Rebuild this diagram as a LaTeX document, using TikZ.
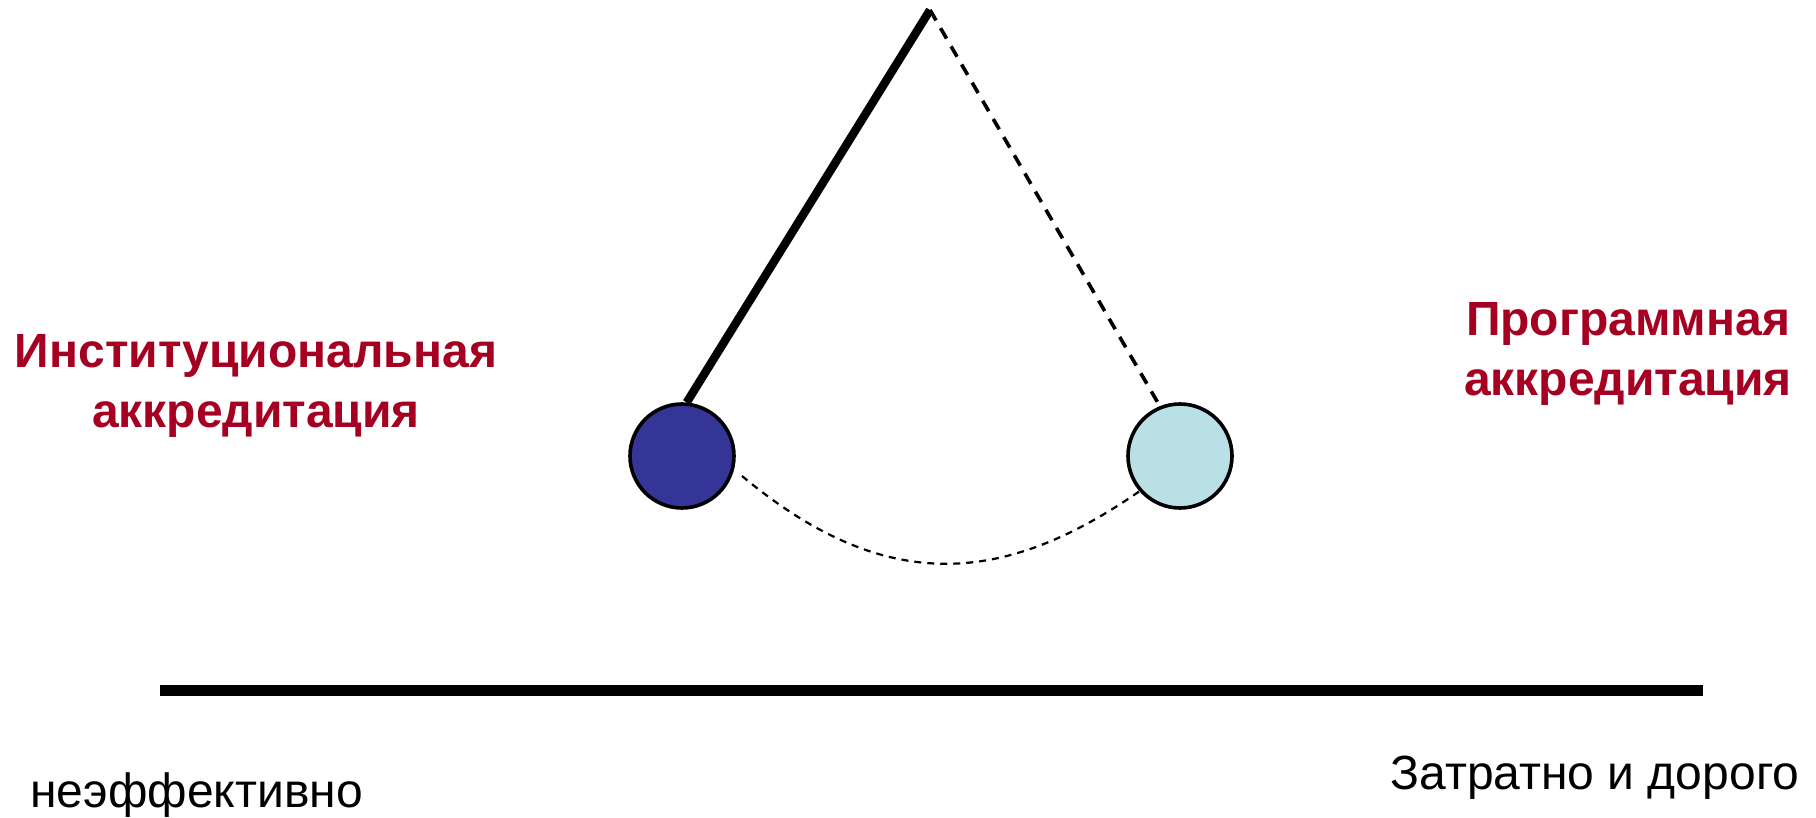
\documentclass[tikz,border=0pt]{standalone}
\usepackage{fontspec}
\setmainfont{Liberation Sans}
\usetikzlibrary{positioning}
\definecolor{TitleRed}{HTML}{A50021}
\definecolor{BobDark}{HTML}{353598}
\definecolor{BobLight}{HTML}{B9E0E4}

\begin{document}
\begin{tikzpicture}[
	x=0.5pt, y=-0.5pt,
	bob/.style={circle, draw, line width=1.8pt, minimum size=52pt, inner sep=0pt},
	title/.style={text=TitleRed, font=\fontsize{24}{30}\selectfont\bfseries, align=center, inner sep=0pt},
	note/.style={font=\fontsize{24}{28}\selectfont, inner sep=0pt, anchor=base west}
]
\useasboundingbox (0,0) rectangle (1816,818);

% pendulum
\coordinate (pivot) at (930,10);
\node[bob, fill=BobDark] (lball) at (682,456) {};
\node[bob, fill=BobLight] (rball) at (1180,456) {};
\coordinate (swing) at (742,476);

\draw[line width=4.2pt] (pivot) -- (lball.85);
\draw[line width=1.8pt, dash pattern=on 6pt off 4.5pt] (pivot) -- (rball.112);
\draw[line width=1.1pt, dash pattern=on 3.5pt off 3pt]
	(swing) .. controls (886,596) and (1004,585) .. (rball.221);

% labels
\node[title] (inst) at (256,386) {Институциональная\\аккредитация};
\node[title] (prog) at (1628,354) {Программная\\аккредитация};

% scale
\coordinate (axisL) at (160,690);
\coordinate (axisR) at (1703,690);
\draw[line width=5.5pt] (axisL) -- (axisR);
\node[note] (weak) at (30,807) {неэффективно};
\node[note] (cost) at (1390,789) {Затратно и дорого};
\end{tikzpicture}
\end{document}
